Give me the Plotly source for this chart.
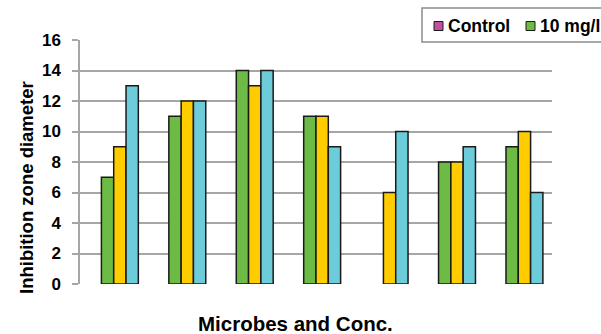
import plotly.graph_objects as go

categories = ["1", "2", "3", "4", "5", "6", "7"]
series_names = ["Control", "10 mg/l", "20 mg/l", "30 mg/l"]
control = [0, 0, 0, 0, 0, 0, 0]
s10 = [7, 11, 14, 11, 0, 8, 9]
s20 = [9, 12, 13, 11, 6, 8, 10]
s30 = [13, 12, 14, 9, 10, 9, 6]
colors = ["#C0509F", "#6BBB45", "#FFCC00", "#6CCCDA"]
y_ticks = [0, 2, 4, 6, 8, 10, 12, 14, 16]

W, H = 601, 334
L, R, T, B = 80, 49, 40, 50
pw, ph = W - L - R, H - T - B

fig = go.Figure()
for name, vals, col in zip(series_names, [control, s10, s20, s30], colors):
    fig.add_trace(go.Bar(
        x=categories, y=vals, name=name,
        marker=dict(color=col,
                    line=dict(color="#1a1a1a", width=[1.5 if v > 0 else 0 for v in vals])),
        showlegend=False, hoverinfo="skip",
    ))

def px(x):
    return (x - L) / pw

def py(y):
    return (H - B - y) / ph

font = dict(family="Liberation Sans, Arial", size=17, color="#000", weight="bold")
leg_font = dict(family="Liberation Sans, Arial", size=17.5, color="#000", weight="bold")

# legend box (manual so it runs off the right edge like the reference)
shapes = [dict(type="rect", xref="paper", yref="paper",
               x0=px(422), x1=px(640), y0=py(42), y1=py(8),
               line=dict(color="#8c8c8c", width=1.5), fillcolor="white", layer="above")]
annotations = []
leg_x = [434, 526]  # only the entries that fall inside the visible canvas
for lx, name, col in zip(leg_x, series_names, colors):
    shapes.append(dict(type="rect", xref="paper", yref="paper",
                       x0=px(lx), x1=px(lx + 9), y0=py(30.5), y1=py(21.5),
                       line=dict(color="#1a1a1a", width=1), fillcolor=col, layer="above"))
    annotations.append(dict(text=name, xref="paper", yref="paper",
                            x=px(lx + 12), y=py(26), xanchor="left", yanchor="middle",
                            showarrow=False, font=leg_font))

annotations.append(dict(text="Inhibition zone diameter", xref="paper", yref="paper",
                        x=px(26), y=py(188), textangle=-90, showarrow=False,
                        xanchor="center", yanchor="middle",
                        font=dict(family="Liberation Sans, Arial", size=18.5, color="#000", weight="bold")))
annotations.append(dict(text="Microbes and Conc.", xref="paper", yref="paper",
                        x=px(295), y=py(323), showarrow=False,
                        xanchor="center", yanchor="middle",
                        font=dict(family="Liberation Sans, Arial", size=20.5, color="#000", weight="bold")))

fig.update_layout(
    width=W, height=H,
    margin=dict(l=L, r=R, t=T, b=B),
    paper_bgcolor="white", plot_bgcolor="white",
    barmode="group", bargap=0.27, bargroupgap=0,
    shapes=shapes, annotations=annotations,
    xaxis=dict(showticklabels=False, showgrid=False, ticks="", showline=False, zeroline=False),
    yaxis=dict(range=[0, 16], tickvals=y_ticks, ticktext=[str(v) for v in y_ticks],
               showgrid=True, gridcolor="#a6a6a6", gridwidth=1.5,
               showline=True, linecolor="#a6a6a6", linewidth=1.5,
               ticks="outside", ticklen=6, tickcolor="#a6a6a6", tickwidth=1.5,
               zeroline=False, tickfont=font, ticklabelstandoff=8),
)

fig.write_html("out.html", config={"displayModeBar": False},
               post_script="document.body.style.margin='0';document.body.style.overflow='hidden';")
